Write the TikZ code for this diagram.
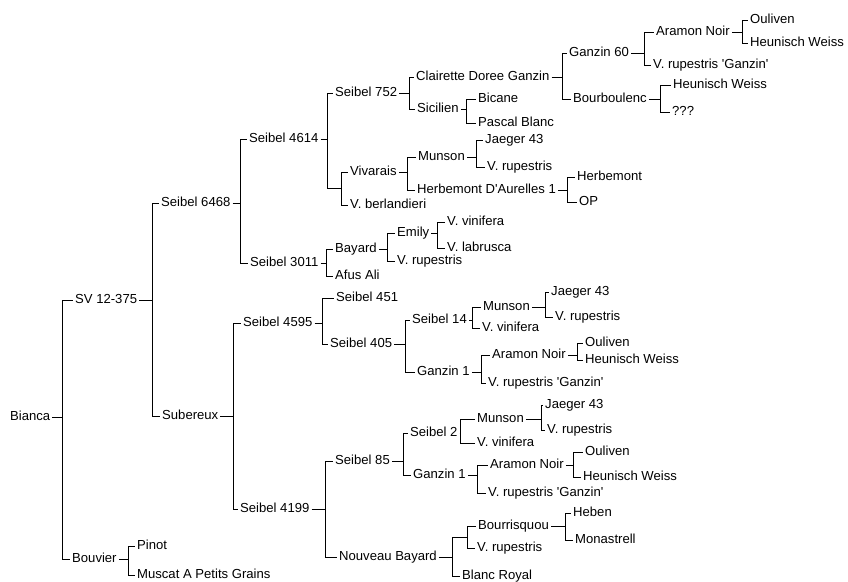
\documentclass[tikz,border=0pt]{standalone}
\usepackage{fontspec}
\setmainfont{Liberation Sans}
\newcommand\fork[5]{% parent, barx, bary, child1, child2
  \coordinate (#1-b) at (#2,#3);
  \draw[wire] (#1.east) -- (#1-b);
  \draw[wire] (#1-b) |- (#4.west);
  \draw[wire] (#1-b) |- (#5.west);}
\newcommand\q{\textquotesingle}
\begin{document}
\begin{tikzpicture}[x=1pt,y=-1pt,
  lbl/.style={anchor=west, inner xsep=2pt, inner ysep=0pt, text height=9.5pt, text depth=2.5pt, font=\fontsize{13.1}{15}\selectfont},
  wire/.style={line width=0.9pt, black}]
\useasboundingbox (0,0) rectangle (848,581);
% nodes
\node[lbl] (bianca) at (8,417) {Bianca};
\node[lbl] (sv) at (73,300) {SV 12-375};
\node[lbl] (bouvier) at (70,559) {Bouvier};
\node[lbl] (s6468) at (159,203) {Seibel 6468};
\node[lbl] (subereux) at (160,416) {Subereux};
\node[lbl] (s4614) at (247,139) {Seibel 4614};
\node[lbl] (s3011) at (248,263) {Seibel 3011};
\node[lbl] (s752) at (333,93) {Seibel 752};
\node[lbl] (cdg) at (414,77) {Clairette Doree Ganzin};
\node[lbl] (sicilien) at (415,109) {Sicilien};
\node[lbl] (g60) at (567,53) {Ganzin 60};
\node[lbl] (bourb) at (571,99) {Bourboulenc};
\node[lbl] (aramonA) at (654,32) {Aramon Noir};
\node[lbl] (vrgA) at (651,65) {V. rupestris \q Ganzin\q};
\node[lbl] (oulivenA) at (748,20) {Ouliven};
\node[lbl] (heunA) at (748,43) {Heunisch Weiss};
\node[lbl] (heunB) at (671,85) {Heunisch Weiss};
\node[lbl] (qqq) at (670,112) {???};
\node[lbl] (bicane) at (476,99) {Bicane};
\node[lbl] (pascal) at (476,123) {Pascal Blanc};
\node[lbl] (vivarais) at (348,172) {Vivarais};
\node[lbl] (berl) at (348,205) {V. berlandieri};
\node[lbl] (munsonA) at (416,157) {Munson};
\node[lbl] (hda) at (415,190) {Herbemont D\q Aurelles 1};
\node[lbl] (jaegerA) at (483,140) {Jaeger 43};
\node[lbl] (vrupA) at (485,167) {V. rupestris};
\node[lbl] (herbemont) at (575,177) {Herbemont};
\node[lbl] (op) at (577,202) {OP};
\node[lbl] (bayard) at (333,249) {Bayard};
\node[lbl] (afus) at (333,276) {Afus Ali};
\node[lbl] (emily) at (395,233) {Emily};
\node[lbl] (vrupB) at (395,261) {V. rupestris};
\node[lbl] (vvinA) at (445,222) {V. vinifera};
\node[lbl] (vlab) at (445,248) {V. labrusca};
\node[lbl] (s4595) at (241,323) {Seibel 4595};
\node[lbl] (s4199) at (238,509) {Seibel 4199};
\node[lbl] (s451) at (334,298) {Seibel 451};
\node[lbl] (s405) at (328,344) {Seibel 405};
\node[lbl] (s14) at (410,320) {Seibel 14};
\node[lbl] (ganzinA) at (415,372) {Ganzin 1};
\node[lbl] (munsonB) at (481,307) {Munson};
\node[lbl] (vvinB) at (480,328) {V. vinifera};
\node[lbl] (jaegerB) at (549,292) {Jaeger 43};
\node[lbl] (vrupC) at (553,317) {V. rupestris};
\node[lbl] (aramonB) at (490,355) {Aramon Noir};
\node[lbl] (vrgB) at (486,383) {V. rupestris \q Ganzin\q};
\node[lbl] (oulivenB) at (583,343) {Ouliven};
\node[lbl] (heunC) at (583,360) {Heunisch Weiss};
\node[lbl] (s85) at (333,461) {Seibel 85};
\node[lbl] (nb) at (337,557) {Nouveau Bayard};
\node[lbl] (s2) at (408,433) {Seibel 2};
\node[lbl] (ganzinB) at (411,475) {Ganzin 1};
\node[lbl] (munsonC) at (475,419) {Munson};
\node[lbl] (vvinC) at (475,443) {V. vinifera};
\node[lbl] (jaegerC) at (543,405) {Jaeger 43};
\node[lbl] (vrupD) at (545,430) {V. rupestris};
\node[lbl] (aramonC) at (488,465) {Aramon Noir};
\node[lbl] (vrgC) at (486,493) {V. rupestris \q Ganzin\q};
\node[lbl] (oulivenC) at (583,452) {Ouliven};
\node[lbl] (heunD) at (581,477) {Heunisch Weiss};
\node[lbl] (bourr) at (476,526) {Bourrisquou};
\node[lbl] (vrupE) at (475,548) {V. rupestris};
\node[lbl] (blanc) at (460,576) {Blanc Royal};
\node[lbl] (heben) at (571,513) {Heben};
\node[lbl] (monas) at (573,540) {Monastrell};
\node[lbl] (pinot) at (135,546) {Pinot};
\node[lbl] (muscat) at (135,575) {Muscat A Petits Grains};
% unlabelled junctions
\coordinate (jA) at (341,188);
\coordinate (jB) at (467,537);
% connectors
\fork{bianca}{62}{417}{sv}{bouvier}
\fork{sv}{152}{300}{s6468}{subereux}
\fork{s6468}{240}{203}{s4614}{s3011}
\coordinate (s4614-b) at (327,139);
\draw[wire] (s4614.east) -- (s4614-b);
\draw[wire] (s4614-b) |- (s752.west);
\draw[wire] (s4614-b) |- (jA);
\draw[wire] (jA) |- (vivarais.west);
\draw[wire] (jA) |- (berl.west);
\fork{s752}{409}{93}{cdg}{sicilien}
\fork{cdg}{562}{77}{g60}{bourb}
\fork{g60}{644}{53}{aramonA}{vrgA}
\fork{aramonA}{742}{32}{oulivenA}{heunA}
\fork{bourb}{660}{99}{heunB}{qqq}
\fork{sicilien}{466}{109}{bicane}{pascal}
\fork{vivarais}{407}{172}{munsonA}{hda}
\fork{munsonA}{476}{157}{jaegerA}{vrupA}
\fork{hda}{567}{190}{herbemont}{op}
\fork{s3011}{326}{263}{bayard}{afus}
\fork{bayard}{387}{249}{emily}{vrupB}
\fork{emily}{437}{233}{vvinA}{vlab}
\fork{subereux}{233}{416}{s4595}{s4199}
\fork{s4595}{322}{323}{s451}{s405}
\fork{s405}{405}{344}{s14}{ganzinA}
\fork{s14}{472}{320}{munsonB}{vvinB}
\fork{munsonB}{545}{307}{jaegerB}{vrupC}
\fork{ganzinA}{481}{372}{aramonB}{vrgB}
\fork{aramonB}{577}{355}{oulivenB}{heunC}
\fork{s4199}{325}{509}{s85}{nb}
\fork{s85}{403}{461}{s2}{ganzinB}
\fork{s2}{460}{433}{munsonC}{vvinC}
\fork{munsonC}{541}{419}{jaegerC}{vrupD}
\fork{ganzinB}{477}{475}{aramonC}{vrgC}
\fork{aramonC}{573}{465}{oulivenC}{heunD}
\coordinate (nb-b) at (452,557);
\draw[wire] (nb.east) -- (nb-b);
\draw[wire] (nb-b) |- (jB);
\draw[wire] (nb-b) |- (blanc.west);
\draw[wire] (jB) |- (bourr.west);
\draw[wire] (jB) |- (vrupE.west);
\fork{bourr}{565}{526}{heben}{monas}
\fork{bouvier}{128}{559}{pinot}{muscat}
\end{tikzpicture}
\end{document}
